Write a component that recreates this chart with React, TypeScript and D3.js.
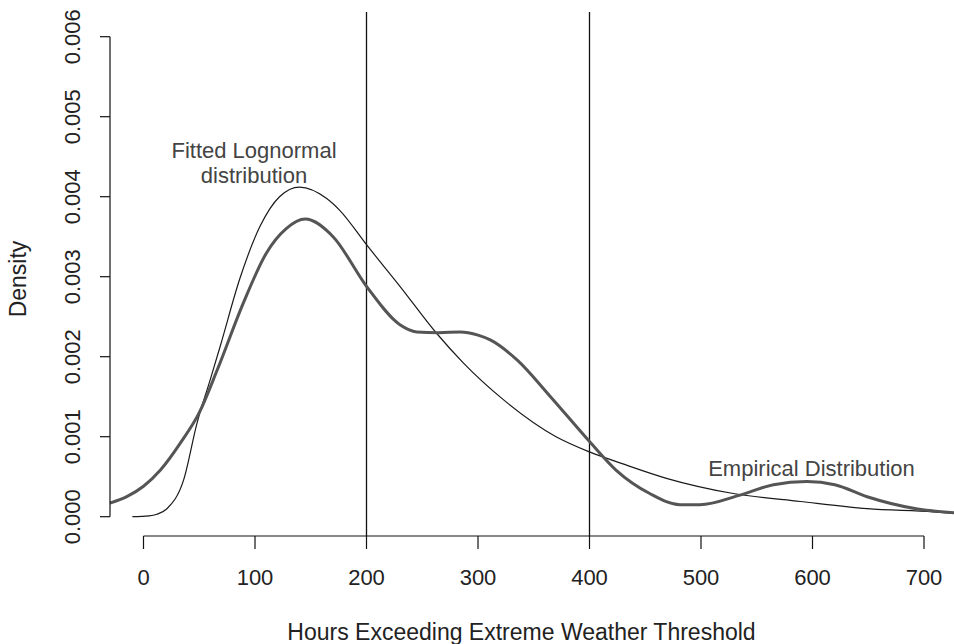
import React from "react";
import * as d3 from "d3";

const xTicks = [0, 100, 200, 300, 400, 500, 600, 700];
const yTicks = [0, 0.001, 0.002, 0.003, 0.004, 0.005, 0.006];
const vLines = [200, 400];

const empiricalX = [-30, -15, 0, 15, 33, 50, 66, 89.5, 110, 128, 145, 170, 200, 230, 245, 265, 284, 300, 311, 335, 365, 400, 424, 454, 481, 499, 535, 565, 595, 620, 649, 693, 727];
const empiricalY = [0.00017, 0.00025, 0.00038, 0.00058, 0.00092, 0.0013, 0.00183, 0.00267, 0.00329, 0.0036, 0.00372, 0.0035, 0.00288, 0.0024, 0.00231, 0.0023, 0.00231, 0.00227, 0.00221, 0.00196, 0.0015, 0.00094, 0.00058, 0.00029, 0.00015, 0.00015, 0.00027, 0.0004, 0.00044, 0.0004, 0.00025, 0.0001, 0.00005];

const lognormX = [-10, 5, 12, 21, 36, 48, 60, 69, 86.5, 104.5, 122, 140, 164, 176, 200, 230, 263, 287, 323, 370, 400, 430, 469, 529, 589, 649, 708, 727];
const lognormY = [0, 0.00001, 0.00003, 0.0001, 0.00046, 0.00117, 0.00172, 0.00214, 0.00298, 0.00363, 0.004, 0.00412, 0.00398, 0.00383, 0.0034, 0.00288, 0.00229, 0.00192, 0.00146, 0.001, 0.00081, 0.00066, 0.00048, 0.00029, 0.00019, 0.0001, 0.00006, 0.00004];

const W = 954;
const H = 644;
const FONT = "'Liberation Sans', Arial, sans-serif";

export default function App() {
  const x = d3.scaleLinear().domain([0, 700]).range([143.5, 924]);
  const y = d3.scaleLinear().domain([0, 0.006]).range([516.7, 36.7]);
  const axisY = 536;
  const axisX = 110;

  const line = d3
    .line<[number, number]>()
    .x((d) => x(d[0]))
    .y((d) => y(d[1]))
    .curve(d3.curveMonotoneX);

  const emp = empiricalX.map((v, i) => [v, empiricalY[i]] as [number, number]);
  const logn = lognormX.map((v, i) => [v, lognormY[i]] as [number, number]);

  return (
    <svg
      width={W}
      height={H}
      style={{ position: "absolute", left: 0, top: 0, background: "#fff" }}
      fontFamily={FONT}
    >
      <rect x={0} y={0} width={W} height={H} fill="#fff" />
      {vLines.map((v) => (
        <line key={v} x1={x(v)} x2={x(v)} y1={12} y2={axisY} stroke="#111" strokeWidth={1.3} />
      ))}
      <path d={line(logn) || ""} fill="none" stroke="#1a1a1a" strokeWidth={1.2} />
      <path d={line(emp) || ""} fill="none" stroke="#555" strokeWidth={3} />

      <line x1={x(0)} x2={x(700)} y1={axisY} y2={axisY} stroke="#111" strokeWidth={1.2} />
      {xTicks.map((t) => (
        <g key={t}>
          <line x1={x(t)} x2={x(t)} y1={axisY} y2={axisY + 13} stroke="#111" strokeWidth={1.2} />
          <text x={x(t)} y={577} textAnchor="middle" dominantBaseline="central" fontSize={22} fill="#222">
            {t}
          </text>
        </g>
      ))}
      <line x1={axisX} x2={axisX} y1={y(0)} y2={y(0.006)} stroke="#111" strokeWidth={1.2} />
      {yTicks.map((t) => (
        <g key={t}>
          <line x1={axisX - 10} x2={axisX} y1={y(t)} y2={y(t)} stroke="#111" strokeWidth={1.2} />
          <text
            transform={`translate(72.5,${y(t)}) rotate(-90)`}
            textAnchor="middle"
            dominantBaseline="central"
            fontSize={22}
            fill="#222"
          >
            {t.toFixed(3)}
          </text>
        </g>
      ))}
      <text x={521.5} y={632} textAnchor="middle" dominantBaseline="central" fontSize={23} fill="#222">
        Hours Exceeding Extreme Weather Threshold
      </text>
      <text
        transform={`translate(18,279) rotate(-90)`}
        textAnchor="middle"
        dominantBaseline="central"
        fontSize={23}
        fill="#222"
      >
        Density
      </text>
      <text x={254} y={150} textAnchor="middle" dominantBaseline="central" fontSize={22} fill="#444">
        Fitted Lognormal
      </text>
      <text x={254} y={175} textAnchor="middle" dominantBaseline="central" fontSize={22} fill="#444">
        distribution
      </text>
      <text x={811.5} y={468} textAnchor="middle" dominantBaseline="central" fontSize={22} fill="#444">
        Empirical Distribution
      </text>
    </svg>
  );
}
